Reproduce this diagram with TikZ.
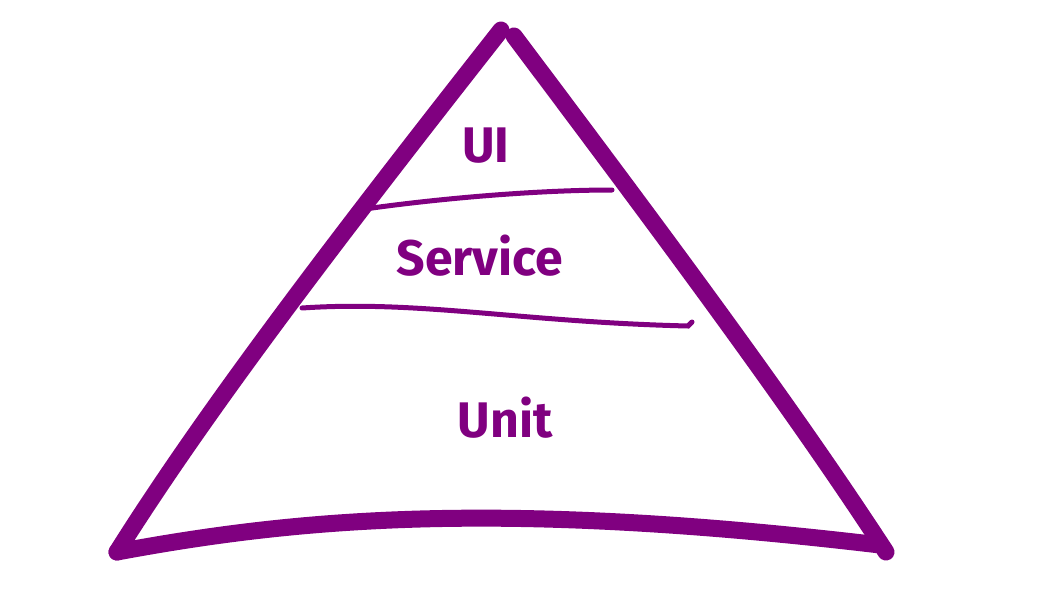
\documentclass[tikz,border=0pt]{standalone}
\usepackage{fontspec}
\setmainfont{Fira Sans}
\definecolor{pyramid}{HTML}{800080}
\begin{document}
\begin{tikzpicture}[x=1pt,y=-1pt,
    side/.style={pyramid,line width=17pt,line cap=round,line join=round},
    band/.style={pyramid,line width=5pt,line cap=round},
    layer/.style={text=pyramid,font=\fontsize{50}{50}\selectfont\bfseries}]
    \useasboundingbox (0,0) rectangle (1056,602);
    % corners of the pyramid
    \coordinate (apexl) at (501,30);
    \coordinate (apexr) at (514,36);
    \coordinate (botl) at (117,552);
    \coordinate (botr) at (886,552);
    \draw[side] (apexl) .. controls (320,260) and (200,420) .. (botl);
    \draw[side] (apexr) .. controls (690,270) and (800,420) .. (botr);
    \draw[side] (botl) .. controls (300,518) and (500,500) .. (880,545);
    % layer borders
    \draw[band] (358,210) .. controls (440,198) and (540,190) .. (612,190);
    \draw[band] (302,308) .. controls (420,300) and (520,322) .. (688,326) -- (692,322);
    \node[layer] (ui) at (486,146) {UI};
    \node[layer] (service) at (480,256) {Service};
    \node[layer] (unit) at (505,418) {Unit};
\end{tikzpicture}
\end{document}
